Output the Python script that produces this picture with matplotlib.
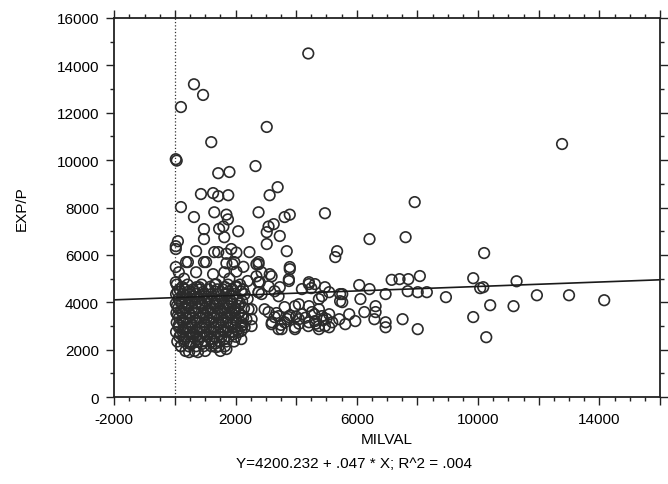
import matplotlib.pyplot as plt
import numpy as np
from matplotlib.ticker import FixedLocator, MultipleLocator

# scattered points outside the dense block
out_x = [4400, 630, 930, 200, 3030, 1200, 30, 60, 12770,
         1430, 1800, 2660, 860, 1260, 1430, 1760, 3125, 3390, 200, 4950, 7910,
         630, 1300, 1700, 1750, 2760, 3620, 3790, 960, 1460, 1600, 2090, 3090, 3260,
         3030, 3460, 960, 1630, 3030, 3690, 100, 30, 700, 1300, 1860, 2030, 1700,
         2460, 2760, 1960, 1700, 960, 430, 30, 3790, 2860, 3190, 3760, 2760, 3090,
         3460, 4420, 4620, 4950, 5090, 2860, 3420, 4190, 4750, 4090, 2530, 3090,
         3420, 3760, 4190, 4520, 4850, 5090, 2530, 3190, 3520, 3960, 4420, 4750,
         5090, 2530, 2190, 2190, 1360, 1700, 470, 760, 200]
out_y = [14500, 13200, 12750, 12240, 11400, 10760, 10040, 9980, 10680,
         9450, 9500, 9750, 8570, 8610, 8480, 8520, 8520, 8860, 8020, 7760, 8230,
         7600, 7800, 7700, 7500, 7800, 7600, 7700, 7090, 7100, 7200, 7000, 7200, 7300,
         6960, 6800, 6670, 6750, 6460, 6160, 6580, 6250, 6160, 6120, 6250, 6100, 6050,
         6120, 5700, 5700, 5650, 5700, 5700, 5490, 5490, 5270, 5100, 4980, 4850, 4680,
         4640, 4850, 4770, 4640, 4430, 4350, 4260, 4560, 4140, 3920, 3710, 3590,
         3420, 3380, 3500, 3590, 3420, 3500, 3290, 3080, 2870, 2950, 3160, 3000,
         2950, 3000, 2790, 2450, 2110, 2030, 1900, 1900, 2150]

# middle and right-hand group
mid_x = [6420, 7610, 5350, 5290, 10200, 8080, 7410, 7150, 7700, 9840, 10070,
         8940, 10400, 9840, 10270, 8010, 7510, 7680, 8010, 8310, 6080, 6420,
         6950, 5520, 5520, 6120, 6620, 5750, 6250, 5950, 6580, 6950, 6950, 6620,
         11270, 11170, 11940, 13000, 14160, 10170,
         2760, 3130, 3790, 3760, 2800, 3290, 2760, 4420, 4500, 4850, 5450, 5450,
         2430, 2960, 3620, 3960, 4420, 4750, 3290, 3200, 3620, 4090, 4620, 4950,
         5190, 5420, 3960, 3420, 4750, 5620, 2360, 2190,
         3800, 4300, 4600, 3500, 4100, 4900, 3700, 4400, 4000, 4650, 5000, 3350]
mid_y = [6670, 6750, 6160, 5910, 6080, 5110, 4980, 4950, 4980, 5020, 4600,
         4220, 3880, 3380, 2530, 2870, 3290, 4470, 4430, 4430, 4730, 4560,
         4350, 4350, 4010, 4140, 3840, 3500, 3590, 3210, 3290, 3160, 2950, 3590,
         4890, 3840, 4300, 4300, 4090, 4640,
         5610, 5190, 5400, 4900, 4850, 4470, 4430, 4770, 4600, 4260, 4350, 4050,
         3710, 3710, 3800, 3840, 3840, 3710, 3380, 3160, 3160, 3290, 3210, 3000,
         3160, 3290, 2870, 2870, 2870, 3080, 3290, 3000,
         3450, 3350, 3500, 3050, 3100, 3250, 3300, 3000, 3400, 3100, 3300, 3550]

# dense block near the origin
blk_x = [30, 370, 1030, 1430, 1900, 2260, 2690, 130, 700, 1260, 1630, 2030, 2690,
         30, 800, 1360, 2030, 2760, 300, 1800, 2400,
         60, 420, 880, 1320, 1750, 2150,
         150, 330, 600, 820, 1100, 1400, 1580, 1900, 2250,
         40, 260, 480, 700, 950, 1200, 1450, 1700, 1950, 2300,
         120, 350, 560, 800, 1050, 1300, 1550, 1800, 2050, 2400,
         30, 230, 450, 680, 900, 1150, 1380, 1620, 1880, 2150,
         110, 330, 560, 780, 1020, 1260, 1500, 1740, 2000, 2280,
         50, 250, 470, 690, 930, 1170, 1400, 1640, 1880, 2120,
         140, 360, 580, 820, 1050, 1290, 1530, 1760, 2000, 2250,
         60, 270, 500, 730, 960, 1200, 1440, 1680, 1920, 2180,
         130, 350, 580, 810, 1040, 1280, 1520, 1750, 1990, 2300,
         40, 260, 490, 720, 950, 1190, 1420, 1660, 1900, 2100,
         150, 370, 600, 830, 1060, 1300, 1540, 1780, 2000,
         80, 300, 520, 760, 990, 1230, 1470, 1700, 1950,
         200, 450, 700, 950, 1200, 1450, 1650,
         350, 650, 1000, 1500]
blk_y = [6370, 5700, 5700, 6120, 5610, 5500, 5610, 5270, 5270, 5190, 5270, 5300, 5100,
         4850, 4640, 4770, 4680, 4430, 5000, 5000, 4900,
         4750, 4750, 4750, 4750, 4750, 4750,
         4550, 4550, 4550, 4550, 4550, 4550, 4550, 4550, 4550,
         4350, 4350, 4350, 4350, 4350, 4350, 4350, 4350, 4350, 4350,
         4150, 4150, 4150, 4150, 4150, 4150, 4150, 4150, 4150, 4150,
         3950, 3950, 3950, 3950, 3950, 3950, 3950, 3950, 3950, 3950,
         3750, 3750, 3750, 3750, 3750, 3750, 3750, 3750, 3750, 3750,
         3550, 3550, 3550, 3550, 3550, 3550, 3550, 3550, 3550, 3550,
         3350, 3350, 3350, 3350, 3350, 3350, 3350, 3350, 3350, 3350,
         3150, 3150, 3150, 3150, 3150, 3150, 3150, 3150, 3150, 3150,
         2950, 2950, 2950, 2950, 2950, 2950, 2950, 2950, 2950, 2950,
         2750, 2750, 2750, 2750, 2750, 2750, 2750, 2750, 2750, 2750,
         2550, 2550, 2550, 2550, 2550, 2550, 2550, 2550, 2550,
         2350, 2350, 2350, 2350, 2350, 2350, 2350, 2350, 2350,
         2150, 2150, 2150, 2150, 2150, 2150, 2150,
         1950, 1950, 1950, 1950]

# extra points filling the core of the block
core_x = [240, 710, 1170, 1650, 2020,
          90, 460, 930, 1340, 1770, 2180,
          240, 610, 1060, 1490, 1900,
          160, 540, 990, 1420, 1850, 2220,
          70, 450, 890, 1330, 1780, 2100,
          200, 620, 1080, 1520, 1960,
          100, 510, 940, 1380, 1830, 2200,
          250, 680, 1110, 1560, 2010,
          130, 560, 1000, 1450, 1880, 2240,
          280, 720, 1160, 1600, 2050,
          190, 620, 1070, 1500, 1920,
          300, 750, 1200, 1620,
          500, 900, 1330]
core_y = [4650, 4640, 4660, 4650, 4640,
          4450, 4460, 4440, 4450, 4450, 4460,
          4250, 4250, 4240, 4260, 4250,
          4050, 4050, 4060, 4040, 4050, 4050,
          3850, 3850, 3860, 3850, 3840, 3850,
          3650, 3650, 3640, 3660, 3650,
          3450, 3450, 3460, 3440, 3450, 3450,
          3250, 3250, 3260, 3240, 3250,
          3050, 3050, 3040, 3060, 3050, 3050,
          2850, 2850, 2860, 2840, 2850,
          2650, 2650, 2640, 2660, 2650,
          2450, 2450, 2460, 2440,
          2250, 2250, 2260]

intercept = 4200.232
slope = 0.047
x_labels = ['-2000', '', '2000', '', '6000', '', '10000', '', '14000', '']

xs = np.array(out_x + mid_x + blk_x + core_x)
ys = np.array(out_y + mid_y + blk_y + core_y)

plt.rcParams['font.family'] = ['Liberation Sans', 'DejaVu Sans']
fig = plt.figure(figsize=(6.68, 4.85), dpi=100)
ax = fig.add_axes([0.171, 0.179, 0.817, 0.782])

ax.scatter(xs, ys, s=58, facecolors='none', edgecolors='#2b2b2b', linewidths=1.2)
lx = np.array([-2000, 16000])
ax.plot(lx, intercept + slope * lx, color='#1a1a1a', lw=1.2)
ax.axvline(0, color='#333333', lw=0.9, ls=':')

ax.set_xlim(-2000, 16000)
ax.set_ylim(0, 16000)
ax.xaxis.set_major_locator(FixedLocator(range(-2000, 16001, 2000)))
ax.set_xticklabels(x_labels)
ax.xaxis.set_minor_locator(MultipleLocator(500))
ax.yaxis.set_major_locator(MultipleLocator(2000))
ax.yaxis.set_minor_locator(MultipleLocator(1000))
ax.tick_params(which='both', direction='out', top=True, right=True,
               labeltop=False, labelright=False, color='#222222', width=1.0)
ax.tick_params(which='major', length=6, labelsize=11, pad=5)
ax.tick_params(which='minor', length=3)
for sp in ax.spines.values():
    sp.set_linewidth(1.3)
    sp.set_color('#222222')

ax.set_xlabel('MILVAL', fontsize=11, labelpad=4)
ax.set_ylabel('EXP/P', fontsize=11, labelpad=20)
fig.text(0.53, 0.035, 'Y=4200.232 + .047 * X; R^2 = .004', ha='center', fontsize=11)

fig.savefig('out.png', dpi=100)
